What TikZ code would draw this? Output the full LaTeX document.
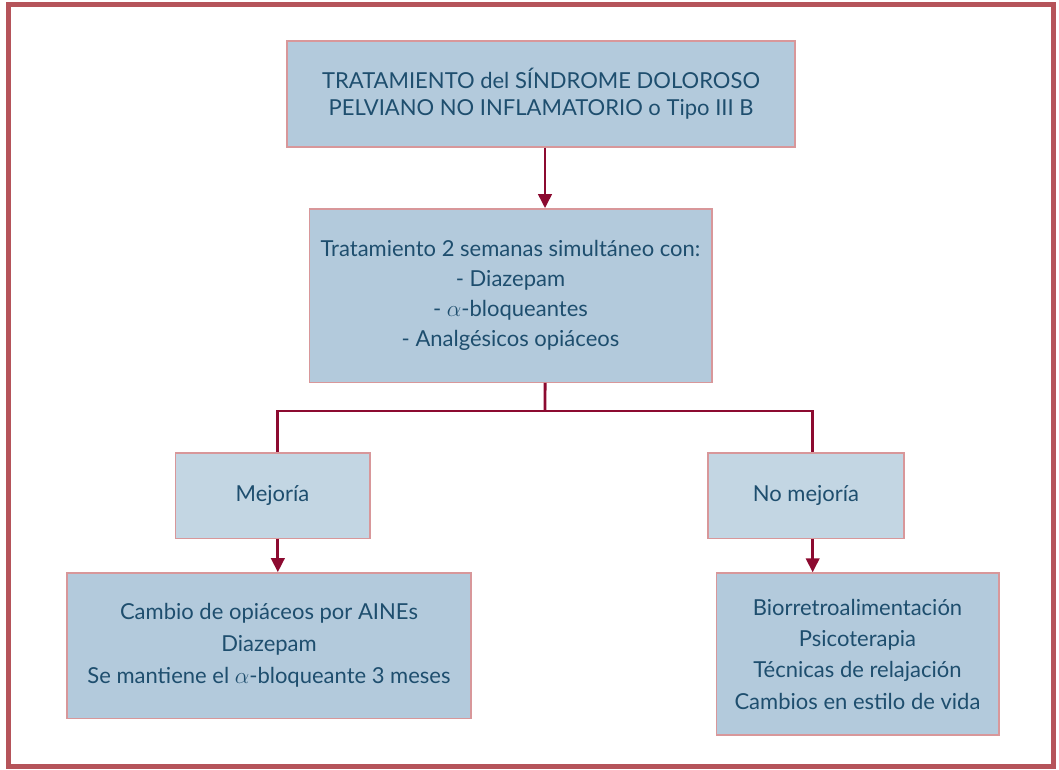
\documentclass[tikz,border=0pt]{standalone}
\usepackage{fontspec}
\setmainfont{Lato}
\usetikzlibrary{arrows.meta,calc}
\definecolor{frame}{HTML}{B5545A}
\definecolor{boxline}{HTML}{D8979A}
\definecolor{fillA}{HTML}{B3CADC}
\definecolor{fillB}{HTML}{C3D6E3}
\definecolor{txt}{HTML}{1E4E6E}
\definecolor{conn}{HTML}{8C0A30}
\tikzset{
  box/.style={draw=boxline, line width=1pt, fill=fillA, text=txt, align=center,
    inner sep=0pt, font=\fontsize{16.5}{23.5}\selectfont},
  lightbox/.style={box, fill=fillB},
  conline/.style={draw=conn, line width=2.2pt},
  arr/.style={conline, -{Triangle[length=10.5pt,width=10pt]}}
}
\begin{document}
\begin{tikzpicture}[x=0.75pt,y=-0.75pt]
\useasboundingbox (0,0) rectangle (1059,770);
\draw[draw=frame, line width=3.8pt] (8.5,4.5) rectangle (1053.5,766.5);
\node[box, minimum width=381pt, minimum height=79.5pt, font=\fontsize{16.5}{20.5}\selectfont] (top) at (541,94)
  {TRATAMIENTO del SÍNDROME DOLOROSO\\PELVIANO NO INFLAMATORIO o Tipo III B};
\node[box, minimum width=302pt, minimum height=130pt, font=\fontsize{16.5}{22.5}\selectfont] (mid) at (510.5,295.5)
  {Tratamiento 2 semanas simultáneo con:\\- Diazepam\\- $\alpha$-bloqueantes\\- Analgésicos opiáceos};
\node[lightbox, minimum width=146pt, minimum height=64pt] (mej) at (272.5,495.5) {Mejoría};
\node[lightbox, minimum width=147pt, minimum height=64pt] (nomej) at (806,495.5) {No mejoría};
\node[box, minimum width=303pt, minimum height=109pt, font=\fontsize{16.5}{24}\selectfont] (bl) at (269,645.5)
  {Cambio de opiáceos por AINEs\\Diazepam\\Se mantiene el $\alpha$-bloqueante 3 meses};
\node[box, minimum width=212pt, minimum height=121.5pt] (br) at (857.5,654)
  {Biorretroalimentación\\Psicoterapia\\Técnicas de relajación\\Cambios en estilo de vida};
\draw[arr] ([xshift=3pt]top.south) -- ([xshift=3pt]top.south |- mid.north);
\coordinate (j) at (545,411);
\draw[conline] ([xshift=25.9pt]mid.south) -- (j);
\draw[conline] (j) -| ([xshift=4pt]mej.north);
\draw[conline] (j) -| ([xshift=5pt]nomej.north);
\draw[arr] ([xshift=4pt]mej.south) -- ([xshift=4pt]mej.south |- bl.north);
\draw[arr] ([xshift=5pt]nomej.south) -- ([xshift=5pt]nomej.south |- br.north);
\end{tikzpicture}
\end{document}
